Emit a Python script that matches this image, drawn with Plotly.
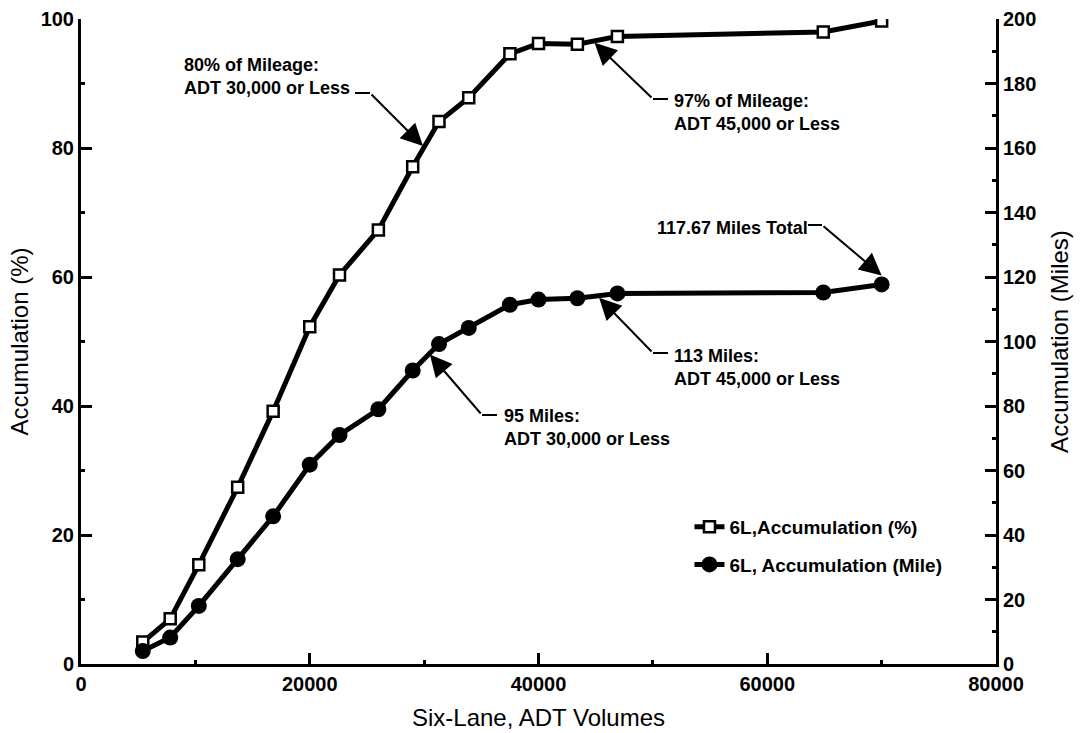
import plotly.graph_objects as go

# ---- data ----
adt_pct = [5400, 7800, 10300, 13700, 16800, 20000, 22600, 26000, 29000, 31300,
           33900, 37500, 40000, 43400, 46900, 64900, 70000]
accum_pct = [3.4, 7.0, 15.4, 27.4, 39.2, 52.3, 60.3, 67.3, 77.1, 84.1,
             87.8, 94.6, 96.2, 96.1, 97.3, 98.0, 99.7]
adt_mile = [5400, 7800, 10300, 13700, 16800, 20000, 22600, 26000, 29000, 31300,
            33900, 37500, 40000, 43400, 46900, 64900, 70000]
accum_mile = [4.0, 8.2, 18.0, 32.5, 45.8, 61.8, 71.0, 79.0, 91.0, 99.2,
              104.2, 111.4, 113.0, 113.4, 114.9, 115.2, 117.7]
series_names = ["6L,Accumulation (%)", "6L, Accumulation (Mile)"]
x_ticks = [0, 20000, 40000, 60000, 80000]
y_ticks = [0, 20, 40, 60, 80, 100]
y2_ticks = [0, 20, 40, 60, 80, 100, 120, 140, 160, 180, 200]

FONT = "Liberation Sans, Arial, sans-serif"

fig = go.Figure()
fig.add_trace(go.Scatter(
    x=adt_pct, y=accum_pct, name=series_names[0], mode="lines+markers",
    legendgroup="a",
    line=dict(color="black", width=5),
    marker=dict(symbol="square", size=11, color="white",
                line=dict(color="black", width=2.5)),
))
fig.add_trace(go.Scatter(
    x=adt_mile, y=accum_mile, name=series_names[1], mode="lines+markers",
    legendgroup="b",
    yaxis="y2",
    line=dict(color="black", width=5),
    marker=dict(symbol="circle", size=16, color="black"),
))

axis_common = dict(showline=True, linecolor="black", linewidth=3,
                   ticks="inside", ticklen=11, tickwidth=3, tickcolor="black",
                   showgrid=False, zeroline=False, automargin=False,
                   tickfont=dict(family=FONT, size=20, color="black", weight="bold"))

fig.update_layout(
    width=1081, height=733,
    margin=dict(l=81, r=85, t=19, b=69),
    paper_bgcolor="white", plot_bgcolor="white",
    font=dict(family=FONT, color="black"),
    xaxis=dict(range=[0, 80000], tickvals=x_ticks, ticktext=[str(v) for v in x_ticks],
               minor=dict(ticks="inside", ticklen=4, tickwidth=3, tickcolor="black", dtick=10000),
               title=dict(text="Six-Lane, ADT Volumes", font=dict(family=FONT, size=24), standoff=16),
               **axis_common),
    yaxis=dict(range=[0, 100], tickvals=y_ticks,
               minor=dict(ticks="inside", ticklen=4, tickwidth=3, tickcolor="black", dtick=10),
               title=dict(text="Accumulation (%)", font=dict(family=FONT, size=24), standoff=6),
               **axis_common),
    yaxis2=dict(range=[0, 200], tickvals=y2_ticks, overlaying="y", side="right",
                minor=dict(ticks="inside", ticklen=4, tickwidth=3, tickcolor="black", dtick=10),
                title=dict(text="Accumulation (Miles)", font=dict(family=FONT, size=24), standoff=16),
                **axis_common),
    legend=dict(x=0.665, y=0.242, xanchor="left", yanchor="top",
                bgcolor="rgba(0,0,0,0)", traceorder="grouped",
                font=dict(family=FONT, size=19, color="black", weight="bold"),
                tracegroupgap=10),
    showlegend=True,
)

ann_font = dict(family=FONT, size=18, color="black", weight="bold")

# text labels (no arrows)
labels = [
    (182, 53, "80% of Mileage:<br>ADT 30,000 or Less"),
    (672, 89, "97% of Mileage:<br>ADT 45,000 or Less"),
    (655, 216, "117.67 Miles Total"),
    (672, 344, "113 Miles:<br>ADT 45,000 or Less"),
    (502, 404, "95 Miles:<br>ADT 30,000 or Less"),
]
for px, py, t in labels:
    fig.add_annotation(text=t, xref="paper", yref="paper",
                       x=(px - 81) / 915, y=1 - (py - 19) / 645,
                       xanchor="left", yanchor="top", align="left",
                       showarrow=False, font=ann_font)

# elbow leader lines: horizontal segment (x0, x1, y) in pixels, then arrow from elbow to tip
leaders = [
    ((355, 370, 93), (29900, 80.3, "y")),
    ((668, 653, 99), (44900, 96.3, "y")),
    ((808, 822, 225), (70000, 120.5, "y2")),
    ((668, 653, 353), (45300, 113.6, "y2")),
    ((497, 482, 415), (30500, 96.0, "y2")),
]
for (hx0, hx1, hy), (tx, ty, yr) in leaders:
    fig.add_shape(type="line", xref="paper", yref="paper",
                  x0=(hx0 - 81) / 915, x1=(hx1 - 81) / 915,
                  y0=1 - (hy - 19) / 645, y1=1 - (hy - 19) / 645,
                  line=dict(color="black", width=2))
    tpx = 81 + tx / 80000 * 915
    if yr == "y":
        tpy = 664 - ty / 100 * 645
    else:
        tpy = 664 - ty / 200 * 645
    fig.add_annotation(x=tx, y=ty, xref="x", yref=yr, text="",
                       showarrow=True, arrowhead=2, arrowsize=2.2, arrowwidth=2,
                       arrowcolor="black",
                       ax=hx1 - tpx, ay=hy - tpy)

fig.write_html("out.html")
